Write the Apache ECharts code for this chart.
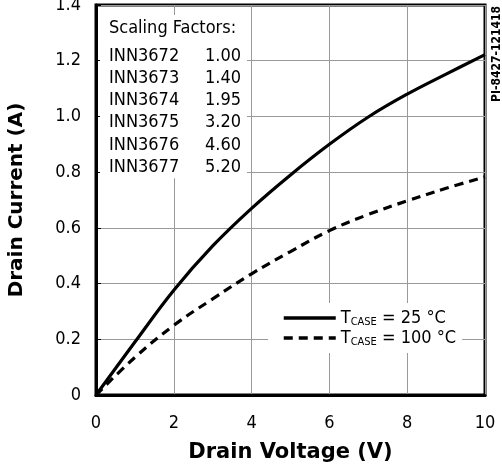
<!DOCTYPE html>
<html>
<head>
<meta charset="utf-8">
<script src="https://cdn.jsdelivr.net/npm/echarts@6/dist/echarts.min.js"></script>
<style>
html,body{margin:0;padding:0;background:#fff;}
#c{width:502px;height:466px;}
</style>
</head>
<body>
<div id="c"></div>
<script>
// ---- data ----
var xTicks = [0, 2, 4, 6, 8, 10];
var yTicks = [0, 0.2, 0.4, 0.6, 0.8, 1.0, 1.2, 1.4];
var voltage = [0, 1, 2, 3, 4, 5, 6, 7, 8, 9, 10];
var current25 = [0, 0.19, 0.376, 0.535, 0.67, 0.79, 0.9, 0.998, 1.08, 1.152, 1.222];
var current100 = [0, 0.135, 0.25, 0.345, 0.435, 0.515, 0.59, 0.648, 0.697, 0.742, 0.783];
var seriesTemps = ['25 °C', '100 °C'];
var partNames = ['INN3672', 'INN3673', 'INN3674', 'INN3675', 'INN3676', 'INN3677'];
var scaleFactors = ['1.00', '1.40', '1.95', '3.20', '4.60', '5.20'];
var xTitle = 'Drain Voltage (V)';
var yTitle = 'Drain Current (A)';
var tableTitle = 'Scaling Factors:';
var docId = 'PI-8427-121418';

function pairs(xs, ys) { return xs.map(function (x, i) { return [x, ys[i]]; }); }

var FONT = 'DejaVu Sans Condensed';
var chart = echarts.init(document.getElementById('c'), null, {renderer: 'canvas'});

var rows = partNames.map(function (n, i) { return '{n|' + n + '}{v|' + scaleFactors[i] + '}'; }).join('\n');

chart.setOption({
  backgroundColor: '#fff',
  animation: false,
  grid: {left: 96, right: 17, top: 5, bottom: 71, show: true, borderColor: '#000', borderWidth: 3,
         backgroundColor: 'transparent', containLabel: false, outerBoundsMode: 'none'},
  title: {
    left: 100, top: 15,
    text: tableTitle,
    subtext: rows,
    itemGap: 4,
    padding: [0, 6, 0, 9],
    backgroundColor: '#fff',
    textStyle: {fontFamily: FONT, fontSize: 18, fontWeight: 'normal', color: '#000', lineHeight: 26},
    subtextStyle: {
      fontFamily: FONT, fontSize: 18, color: '#000', lineHeight: 22.2,
      rich: {
        n: {fontFamily: FONT, fontSize: 18, color: '#000', width: 90, align: 'left', lineHeight: 22.2},
        v: {fontFamily: FONT, fontSize: 18, color: '#000', width: 42, align: 'right', lineHeight: 22.2}
      }
    }
  },
  legend: {
    orient: 'vertical',
    left: 268, top: 303,
    padding: [5, 6, 5, 14],
    itemGap: 0,
    itemWidth: 52, itemHeight: 14,
    backgroundColor: '#fff',
    data: seriesTemps,
    itemStyle: {opacity: 0},
    lineStyle: {width: 3.5},
    formatter: function (name) { return '{t|T}{s|CASE}{t| = ' + name + '}'; },
    textStyle: {
      fontFamily: FONT, fontSize: 18, color: '#000', lineHeight: 20,
      rich: {
        t: {fontFamily: FONT, fontSize: 18, color: '#000', lineHeight: 20},
        s: {fontFamily: FONT, fontSize: 11, color: '#000', lineHeight: 11, verticalAlign: 'bottom'}
      }
    }
  },
  graphic: [{
    type: 'text',
    x: 497, y: 54,
    rotation: Math.PI / 2,
    style: {text: docId, fontFamily: FONT, fontSize: 12, fontWeight: 'bold', fill: '#000', align: 'center', verticalAlign: 'middle'}
  }],
  xAxis: {
    type: 'value', min: 0, max: 10, interval: 2,
    name: xTitle, nameLocation: 'middle', nameGap: 47,
    nameTextStyle: {fontFamily: 'DejaVu Sans', fontSize: 21, fontWeight: 'bold', color: '#000'},
    axisLine: {show: true, lineStyle: {color: '#000', width: 3}},
    axisTick: {show: false},
    axisLabel: {fontFamily: FONT, fontSize: 18, color: '#000', margin: 19,
      formatter: function (v) { return xTicks.indexOf(v) >= 0 ? String(v) : ''; }},
    splitLine: {show: true, lineStyle: {color: '#999', width: 1}}
  },
  yAxis: {
    type: 'value', min: 0, max: 1.4, interval: 0.2,
    name: yTitle, nameLocation: 'middle', nameGap: 69,
    nameTextStyle: {fontFamily: 'DejaVu Sans', fontSize: 20, fontWeight: 'bold', color: '#000'},
    axisLine: {show: true, lineStyle: {color: '#000', width: 3}},
    axisTick: {show: true, inside: true, length: 5, lineStyle: {color: '#000', width: 1}},
    axisLabel: {fontFamily: FONT, fontSize: 18, color: '#000', margin: 15,
      formatter: function (v) {
        var t = yTicks.filter(function (y) { return Math.abs(y - v) < 1e-6; })[0];
        if (t === undefined) return '';
        return t === 0 ? '0' : t.toFixed(1);
      }},
    splitLine: {show: true, lineStyle: {color: '#999', width: 1}}
  },
  series: [
    {name: seriesTemps[0], type: 'line', smooth: 0.4, symbol: 'none', data: pairs(voltage, current25),
     lineStyle: {color: '#000', width: 3.2}, itemStyle: {color: '#000'}, z: 3},
    {name: seriesTemps[1], type: 'line', smooth: 0.4, symbol: 'none', data: pairs(voltage, current100),
     lineStyle: {color: '#000', width: 3.2, type: [9, 6]}, itemStyle: {color: '#000'}, z: 3}
  ]
});
</script>
</body>
</html>
